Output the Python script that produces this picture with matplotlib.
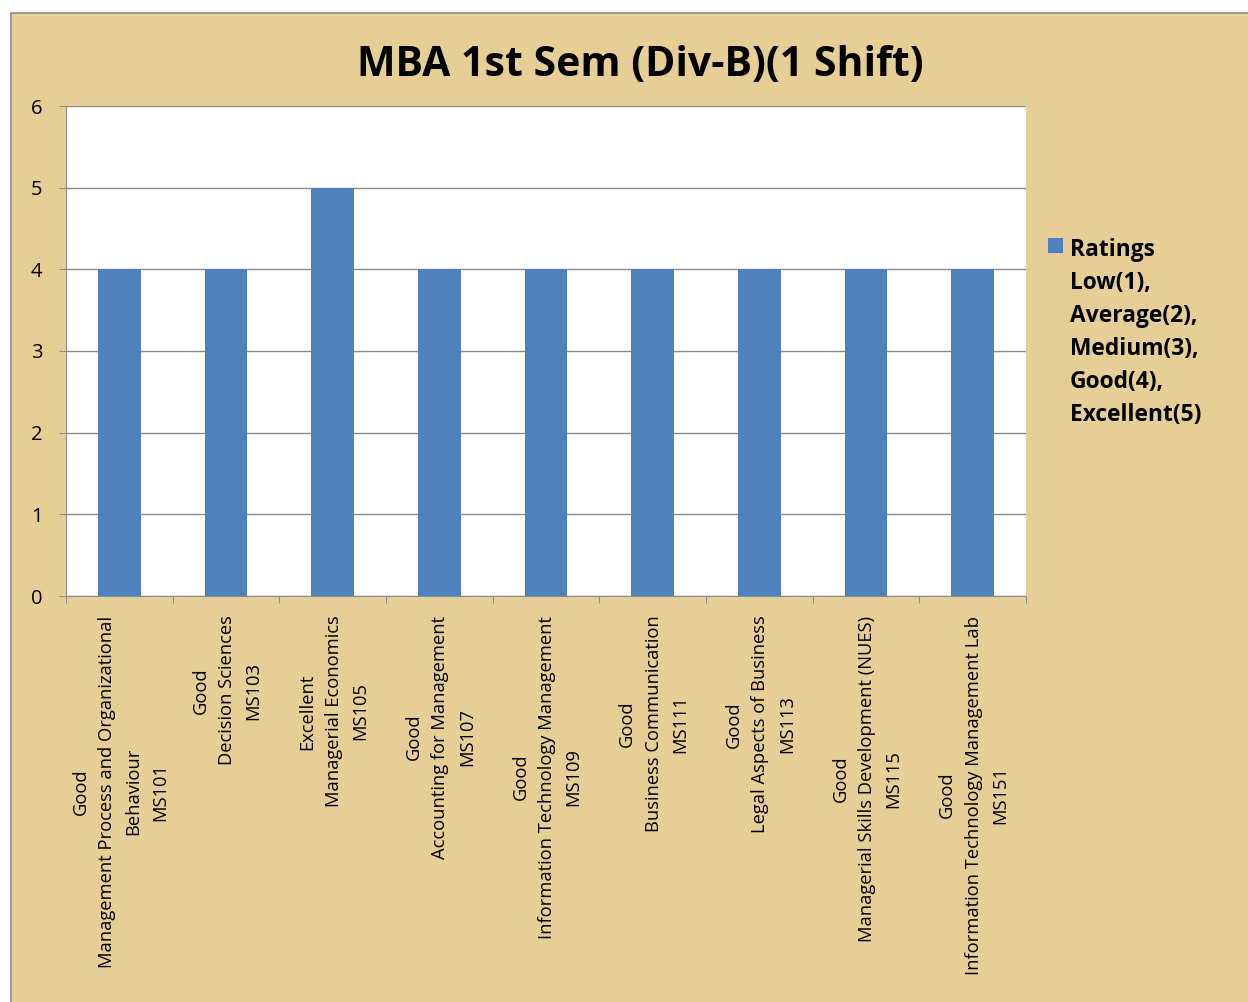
import matplotlib.pyplot as plt
from matplotlib.patches import Rectangle
import numpy as np

# subjects, rating text and code per bar
ratings_text = ["Good", "Good", "Excellent", "Good", "Good", "Good", "Good", "Good", "Good"]
subjects = ["Management Process and Organizational\nBehaviour",
            "Decision Sciences",
            "Managerial Economics",
            "Accounting for Management",
            "Information Technology Management",
            "Business Communication",
            "Legal Aspects of Business",
            "Managerial Skills Development (NUES)",
            "Information Technology Management Lab"]
codes = ["MS101", "MS103", "MS105", "MS107", "MS109", "MS111", "MS113", "MS115", "MS151"]
values = [4, 4, 5, 4, 4, 4, 4, 4, 4]

labels = [f"{r}\n{s}\n{c}" for r, s, c in zip(ratings_text, subjects, codes)]

plt.rcParams['font.family'] = ['Open Sans', 'DejaVu Sans']

fig = plt.figure(figsize=(12.48, 10.02), dpi=100)
fig.patch.set_facecolor('white')

# parchment panel
panel = Rectangle((11 / 1248, -0.01), 1.0, 1 - 13 / 1002 + 0.01, transform=fig.transFigure,
                  facecolor='#E5CF96', edgecolor='#8C8C8C', linewidth=1.2, zorder=-5)
fig.patches.append(panel)

ax = fig.add_axes([66 / 1248, 1 - 596 / 1002, 960 / 1248, 490 / 1002])
ax.set_facecolor('white')

x = np.arange(len(values))
bars = ax.bar(x, values, width=0.4, color='#4F81BD', zorder=3,
              label="Ratings\nLow(1),\nAverage(2),\nMedium(3),\nGood(4),\nExcellent(5)")

ax.set_xlim(-0.5, len(values) - 0.5)
ax.set_ylim(0, 6)
ax.set_yticks(range(0, 7))
ax.yaxis.grid(True, color='#8C8C8C', linewidth=1, zorder=1)
ax.set_axisbelow(True)

for s in ['top', 'right']:
    ax.spines[s].set_visible(False)
for s in ['left', 'bottom']:
    ax.spines[s].set_color('#8C8C8C')

# ticks between categories
ax.set_xticks(np.arange(-0.5, len(values), 1.0))
ax.set_xticklabels([])
ax.tick_params(axis='x', length=5, color='#8C8C8C', direction='out')
ax.tick_params(axis='y', length=5, color='#8C8C8C', labelsize=14.5, pad=12)

for xi, lab in zip(x, labels):
    ax.text(xi + 0.01, -0.04, lab, rotation=90, ha='center', va='top',
            multialignment='center', fontsize=13.2, linespacing=1.6,
            transform=ax.get_xaxis_transform())

fig.text(0.513, 0.935, "MBA 1st Sem (Div-B)(1 Shift)", ha='center', va='center',
         fontsize=29.5, fontweight='bold')

leg = fig.legend(handles=[bars], loc='upper left', bbox_to_anchor=(1048 / 1248, 1 - 238 / 1002),
                 frameon=False, prop={'weight': 'bold', 'size': 16.4}, handlelength=0.65,
                 handleheight=0.65, handletextpad=0.3, borderaxespad=0, borderpad=0)
for t in leg.get_texts():
    t.set_linespacing(1.5)
# put the square next to the first line
for col in leg._legend_handle_box.get_children():
    for row in col.get_children():
        row.align = 'top'

fig.savefig('out.png', dpi=100, facecolor=fig.get_facecolor())
